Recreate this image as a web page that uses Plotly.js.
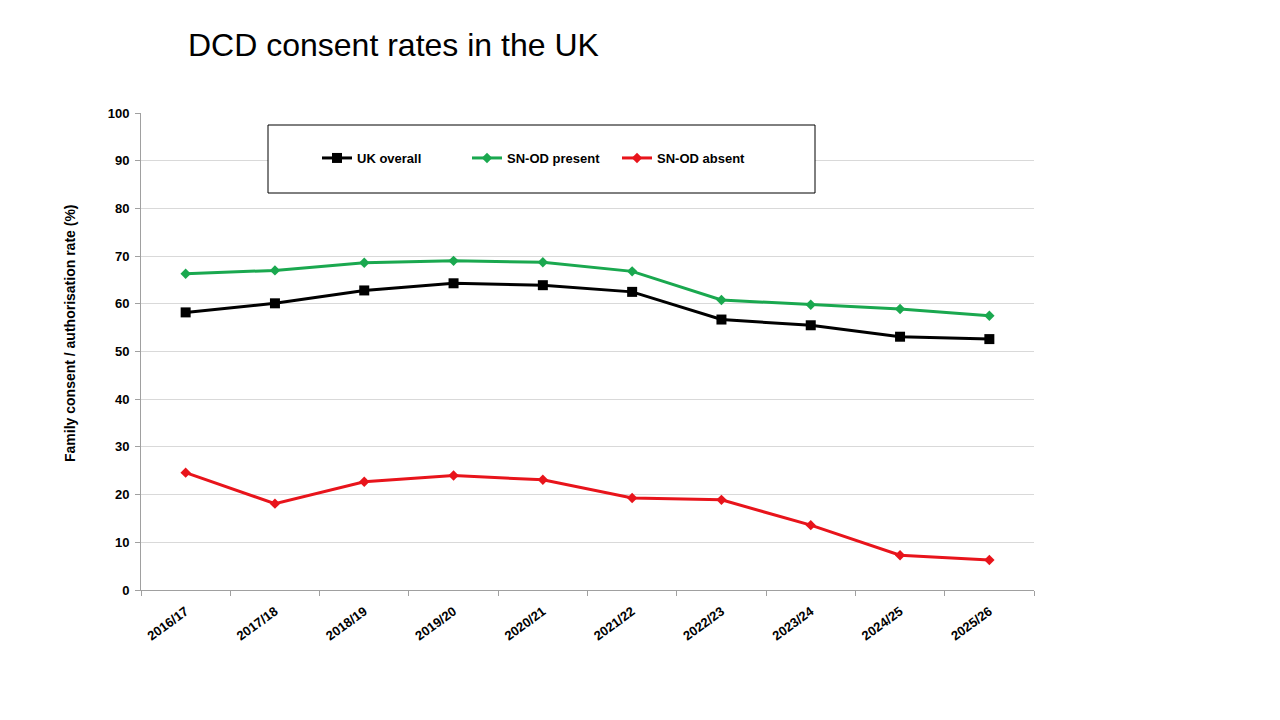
<!DOCTYPE html>
<html>
<head>
<meta charset="utf-8">
<script src="https://cdn.plot.ly/plotly-3.0.1.min.js"></script>
<style>html,body{margin:0;padding:0;background:#fff;}#chart{width:1280px;height:720px;}</style>
</head>
<body>
<div id="chart"></div>
<script>
const years = ["2016/17","2017/18","2018/19","2019/20","2020/21","2021/22","2022/23","2023/24","2024/25","2025/26"];
const ukOverall = [58.2, 60.1, 62.8, 64.3, 63.9, 62.5, 56.7, 55.5, 53.1, 52.6];
const snodPresent = [66.3, 67.0, 68.6, 69.0, 68.7, 66.8, 60.8, 59.8, 58.9, 57.5];
const snodAbsent = [24.6, 18.1, 22.7, 24.0, 23.1, 19.3, 18.9, 13.6, 7.3, 6.3];
const yTicks = [0,10,20,30,40,50,60,70,80,90,100];

const font = "Liberation Sans, Arial, sans-serif";
const traces = [
  {x: years, y: ukOverall, name: "UK overall", type: "scatter", mode: "lines+markers",
   line: {color: "#000000", width: 3}, marker: {symbol: "square", size: 10, color: "#000000"}},
  {x: years, y: snodPresent, name: "SN-OD present", type: "scatter", mode: "lines+markers",
   line: {color: "#1aa84f", width: 3}, marker: {symbol: "diamond", size: 8, color: "#1aa84f"}},
  {x: years, y: snodAbsent, name: "SN-OD absent", type: "scatter", mode: "lines+markers",
   line: {color: "#e8141b", width: 3}, marker: {symbol: "diamond", size: 8, color: "#e8141b"}}
];

const layout = {
  width: 1280, height: 720,
  paper_bgcolor: "#ffffff", plot_bgcolor: "#ffffff",
  margin: {l: 141, r: 246, t: 113, b: 130},
  showlegend: true,
  font: {family: font, color: "#000"},
  title: {text: "DCD consent rates in the UK", font: {family: font, size: 32, color: "#000"},
          x: 188/1280, xanchor: "left", xref: "container", y: 1 - 45/720, yanchor: "middle", yref: "container"},
  xaxis: {
    type: "category", range: [-0.5, 9.5], tickangle: -36,
    tickfont: {family: font, size: 13, color: "#000", weight: "bold"},
    showgrid: false, showline: true, linecolor: "#a0a0a0", linewidth: 1,
    ticks: "outside", ticklen: 5, tickcolor: "#a0a0a0", tickson: "boundaries",
    ticklabelstandoff: 8,
    zeroline: false, fixedrange: true
  },
  yaxis: {
    range: [0, 100], tickvals: yTicks, ticktext: yTicks.map(String),
    tickfont: {family: font, size: 13, color: "#000", weight: "bold"},
    showgrid: true, gridcolor: "#d9d9d9", gridwidth: 1,
    showline: true, linecolor: "#a0a0a0", linewidth: 1,
    ticks: "outside", ticklen: 5, tickcolor: "#a0a0a0", ticklabelstandoff: 3,
    zeroline: false
  },
  annotations: [
    {text: "Family consent / authorisation rate (%)", xref: "paper", yref: "paper",
     x: (70-141)/893, y: 1 - (333-113)/477, xanchor: "center", yanchor: "middle",
     textangle: -90, showarrow: false,
     font: {family: font, size: 14, color: "#000", weight: "bold"}}
  ],
  legend: {
    orientation: "h", x: (317-141)/893, xanchor: "left", y: 1 - (158-113)/477, yanchor: "middle",
    bgcolor: "rgba(0,0,0,0)", borderwidth: 0,
    font: {family: font, size: 13, color: "#000", weight: "bold"},
    entrywidth: 105, entrywidthmode: "pixels", itemwidth: 30
  },
  shapes: [
    {type: "rect", xref: "paper", yref: "paper",
     x0: (268-141)/893, x1: (815-141)/893, y0: 1 - (193-113)/477, y1: 1 - (125-113)/477,
     line: {color: "#000", width: 1}, fillcolor: "#ffffff", layer: "above"}
  ]
};
Plotly.newPlot("chart", traces, layout, {displayModeBar: false, staticPlot: true});
</script>
</body>
</html>
